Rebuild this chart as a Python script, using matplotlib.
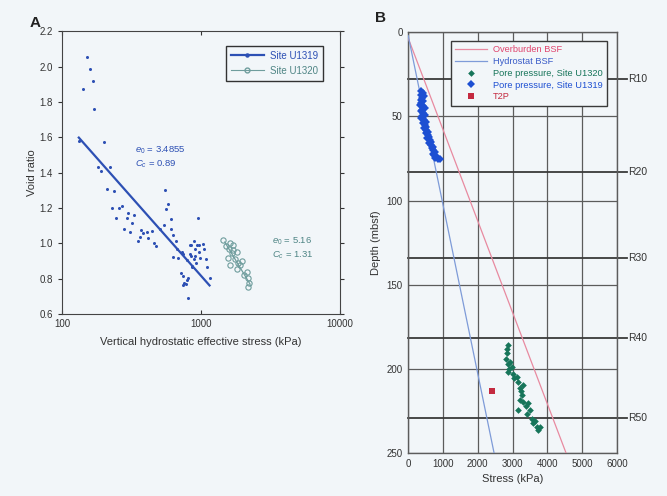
import matplotlib
matplotlib.use("Agg")
import matplotlib.pyplot as plt
import matplotlib.transforms as mtransforms
from matplotlib.lines import Line2D
import numpy as np

plt.rcParams['font.family'] = ['Liberation Sans', 'DejaVu Sans']
plt.rcParams['mathtext.fontset'] = 'custom'
plt.rcParams['mathtext.it'] = 'Liberation Sans:italic'
plt.rcParams['mathtext.rm'] = 'Liberation Sans'

# ---- Panel A: void ratio vs. vertical hydrostatic effective stress ----
u1319_stress = [151, 159, 142, 167, 171, 132, 200, 181, 191, 222, 211, 238, 550,
                577, 557, 230, 257, 269, 244, 297, 330, 292, 317, 281, 308, 368,
                385, 411, 442, 418, 364, 354, 461, 472, 507, 542, 609, 609, 632,
                661, 675, 632, 687, 746, 843, 843, 891, 921, 941, 972, 857, 957,
                891, 834, 972, 1040, 906, 1057, 834, 906, 984, 1086, 726, 789, 857,
                1099, 1162, 717, 746, 789, 759, 811, 780, 738, 811]
u1319_void = [2.055, 1.987, 1.873, 1.919, 1.760, 1.579, 1.576, 1.430, 1.410, 1.429,
              1.306, 1.295, 1.300, 1.225, 1.193, 1.197, 1.197, 1.211, 1.142, 1.174,
              1.159, 1.142, 1.112, 1.079, 1.064, 1.074, 1.057, 1.066, 1.070, 1.032,
              1.038, 1.013, 1.004, 0.985, 1.079, 1.104, 1.136, 1.083, 1.045, 1.013,
              0.966, 0.925, 0.914, 0.942, 0.989, 0.928, 0.910, 0.887, 0.993, 0.948,
              0.868, 1.142, 1.013, 0.993, 0.993, 0.995, 0.966, 0.966, 0.938, 0.928,
              0.919, 0.910, 0.948, 0.906, 0.872, 0.868, 0.804, 0.834, 0.815, 0.793,
              0.774, 0.806, 0.769, 0.763, 0.693]

u1320_stress = [1446, 1617, 1708, 1599, 1806, 1574, 1663, 1757, 1617, 1909, 1806,
                2134, 2167, 2215, 2190, 1514, 1963, 1700, 1850, 2050]
u1320_void = [1.017, 1.000, 0.989, 0.970, 0.951, 0.915, 0.944, 0.913, 0.876, 0.876,
              0.853, 0.840, 0.806, 0.778, 0.750, 0.982, 0.900, 0.960, 0.890, 0.820]

# Compression-line fits: e = e0 - Cc * log10(stress)
fit_u1319 = {"e0": 3.4855, "Cc": 0.89, "range": (132, 1150)}
fit_u1320 = {"e0": 5.16, "Cc": 1.31, "range": (1480, 2250)}

# ---- Panel B: stress vs. depth ----
overburden_stress = [0, 4540]
overburden_depth = [3.5, 250]
hydrostat_stress = [0, 2470]
hydrostat_depth = [2, 250]

pp_u1319_stress = [380, 420, 360, 450, 400, 360, 430, 380, 350, 420, 470, 390, 360,
                   430, 480, 400, 370, 450, 500, 430, 470, 520, 460, 500, 560, 510,
                   560, 600, 550, 620, 660, 600, 650, 700, 680, 720, 760, 700, 750,
                   820, 870, 900, 780]
pp_u1319_depth = [35, 36, 37, 38, 39, 40, 41, 42, 43, 44, 45, 46, 47, 48, 49, 50, 51,
                  52, 53, 54, 55, 56, 57, 58, 59, 60, 61, 62, 63, 64, 65, 66, 67, 68,
                  69, 70, 71, 72, 73, 74, 75, 75.5, 74.5]

pp_u1320_stress = [2862, 2833, 2813, 2928, 2880, 2977, 2880, 3023, 3120, 3168, 3311,
                   3216, 3264, 3216, 3311, 3455, 3168, 3503, 3407, 3551, 3599, 3694,
                   3742, 3790, 2850, 2900, 3050, 3250, 3380, 3650]
pp_u1320_depth = [185.8, 190.7, 193.7, 195.7, 197.0, 198.7, 201.7, 202.6, 204.6,
                  207.6, 209.6, 211.5, 215.5, 218.5, 219.5, 220.4, 224.4, 224.4, 226.4,
                  229.4, 232.0, 234.3, 235.9, 234.3, 188.0, 200.0, 205.5, 213.0,
                  222.0, 231.0]

t2p_stress = [2400]
t2p_depth = [213]

horizon_names = ["R10", "R20", "R30", "R40", "R50"]
horizon_depths = [27.5, 83, 134, 181.5, 229]

# ---- colours ----
bg = "#f2f6f9"
blue_a = "#2d50b4"
teal_a = "#6f9d9d"
teal_txt = "#4f8585"
pink = "#e88aa0"
pink_txt = "#e0456e"
lblue = "#7e9bd8"
lblue_txt = "#3a5cc8"
green = "#17755a"
blue_b = "#1d4fd2"
red = "#c42a40"
grid_c = "#5c5c5c"

fig = plt.figure(figsize=(6.67, 4.96), dpi=100, facecolor=bg)

# ================= Panel A =================
axA = fig.add_axes([0.093, 0.367, 0.417, 0.570], facecolor=bg)
axA.set_xscale("log")
axA.set_xlim(100, 10000)
axA.set_ylim(0.6, 2.2)

axA.plot(u1319_stress, u1319_void, linestyle="none", marker="o", ms=2.2,
         color=blue_a, mew=0)
axA.plot(u1320_stress, u1320_void, linestyle="none", marker="o", ms=3.8,
         mfc="none", mec=teal_a, mew=0.8)

for fit, col, lw in ((fit_u1319, blue_a, 1.6), (fit_u1320, teal_a, 0.9)):
    xs = np.array(fit["range"], dtype=float)
    axA.plot(xs, fit["e0"] - fit["Cc"] * np.log10(xs), color=col, lw=lw)

axA.text(335, 1.515, r"$e_0$ = 3.4855", color=blue_a, fontsize=6.8)
axA.text(335, 1.435, r"$C_c$ = 0.89", color=blue_a, fontsize=6.8)
axA.text(3240, 0.998, r"$e_0$ = 5.16", color=teal_txt, fontsize=6.8)
axA.text(3240, 0.918, r"$C_c$ = 1.31", color=teal_txt, fontsize=6.8)

axA.set_yticks(np.arange(0.6, 2.21, 0.2))
axA.set_yticklabels([f"{v:.1f}" for v in np.arange(0.6, 2.21, 0.2)])
axA.set_xticks([100, 1000, 10000])
axA.set_xticklabels(["100", "1000", "10000"])
axA.minorticks_off()
axA.tick_params(axis="y", which="both", direction="out", length=3, labelsize=7,
                right=True, colors="#333333")
axA.tick_params(axis="x", which="both", direction="in", length=3, labelsize=7,
                top=True, colors="#333333")
for s in axA.spines.values():
    s.set_color("#444444")
    s.set_linewidth(0.8)
axA.set_xlabel("Vertical hydrostatic effective stress (kPa)", fontsize=8,
               color="#333333", labelpad=6)
axA.set_ylabel("Void ratio", fontsize=8, color="#333333", labelpad=2)

legA_handles = [
    Line2D([], [], color=blue_a, lw=1.6, marker="o", ms=2.2),
    Line2D([], [], color=teal_a, lw=0.8, marker="o", ms=3.5, mfc="none"),
]
legA = axA.legend(legA_handles, ["Site U1319", "Site U1320"], loc="upper right",
                  fontsize=7, frameon=True, fancybox=False, edgecolor="#333333",
                  facecolor=bg, framealpha=1, handlelength=3.4, handletextpad=0.6,
                  borderpad=0.5, labelspacing=0.5, bbox_to_anchor=(0.955, 0.965))
legA.get_frame().set_linewidth(1.0)
for t, c in zip(legA.get_texts(), [blue_a, teal_txt]):
    t.set_color(c)

fig.text(0.045, 0.945, "A", fontsize=11, fontweight="bold", color="#222222")

# ================= Panel B =================
axB = fig.add_axes([0.612, 0.086, 0.313, 0.849], facecolor=bg)
axB.set_xlim(0, 6000)
axB.set_ylim(250, 0)
axB.set_xticks(np.arange(0, 6001, 1000))
axB.set_yticks(np.arange(0, 251, 50))
axB.grid(True, color=grid_c, lw=0.9)
axB.set_axisbelow(True)
axB.tick_params(length=0, labelsize=7, colors="#333333", pad=4)
for s in axB.spines.values():
    s.set_color(grid_c)
    s.set_linewidth(1.0)

trans = mtransforms.blended_transform_factory(axB.transAxes, axB.transData)
for name, d in zip(horizon_names, horizon_depths):
    axB.plot([0, 1.05], [d, d], transform=trans, color="#3a3a3a", lw=1.3,
             clip_on=False, zorder=1)
    axB.text(1.055, d, name, transform=trans, fontsize=7.5, color="#333333",
             va="center", ha="left")

axB.plot(overburden_stress, overburden_depth, color=pink, lw=0.9, zorder=3,
         label="Overburden BSF")
axB.plot(hydrostat_stress, hydrostat_depth, color=lblue, lw=0.9, zorder=3,
         label="Hydrostat BSF")
axB.plot(pp_u1320_stress, pp_u1320_depth, linestyle="none", marker="D", ms=3.4,
         color=green, mew=0, zorder=4, label="Pore pressure, Site U1320")
axB.plot(pp_u1319_stress, pp_u1319_depth, linestyle="none", marker="D", ms=3.6,
         color=blue_b, mew=0, zorder=4, label="Pore pressure, Site U1319")
axB.plot(t2p_stress, t2p_depth, linestyle="none", marker="s", ms=5, color=red,
         mew=0, zorder=4, label="T2P")

axB.set_xlabel("Stress (kPa)", fontsize=8, color="#333333", labelpad=4)
axB.set_ylabel("Depth (mbsf)", fontsize=8, color="#333333", labelpad=4)

legB = axB.legend(loc="upper right", fontsize=6.7, frameon=True, fancybox=False,
                  edgecolor="#3a3a3a", facecolor=bg, framealpha=1,
                  handlelength=3.4, handletextpad=0.65, borderpad=0.45,
                  labelspacing=0.3, bbox_to_anchor=(0.975, 0.99))
legB.get_frame().set_linewidth(1.0)
for t, c in zip(legB.get_texts(), [pink_txt, lblue_txt, green, blue_b, red]):
    t.set_color(c)

fig.text(0.562, 0.955, "B", fontsize=11, fontweight="bold", color="#222222")

fig.savefig("out.png", dpi=100, facecolor=bg)
